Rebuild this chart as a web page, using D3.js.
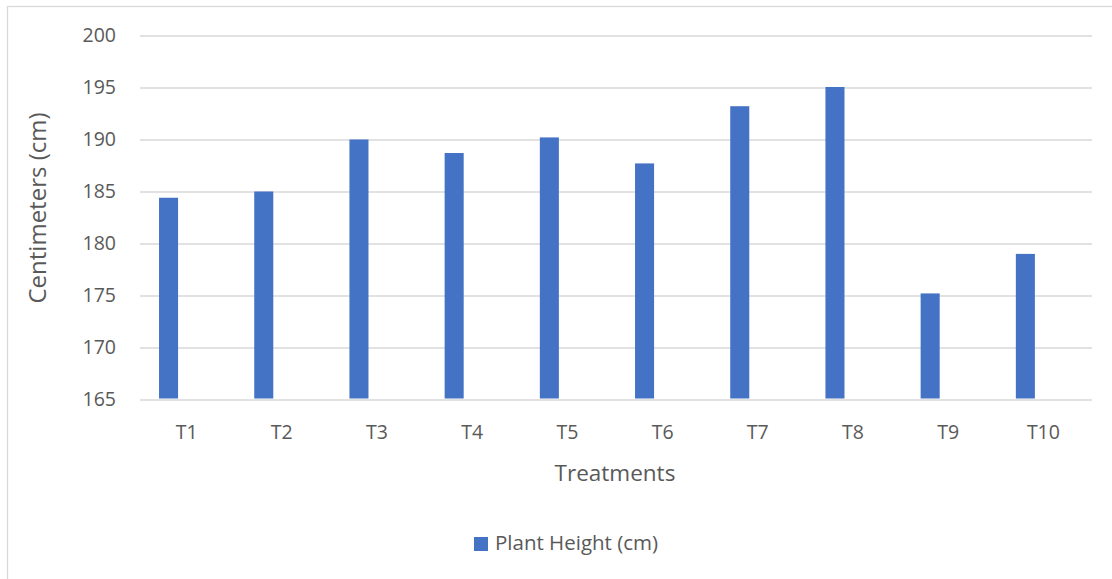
<!DOCTYPE html>
<html>
<head>
<meta charset="utf-8">
<script src="https://cdn.jsdelivr.net/npm/d3@7"></script>
<style>
  body { margin: 0; background: #fff; }
  text { font-family: "Open Sans", sans-serif; fill: #595959; }
</style>
</head>
<body>
<div class="canvas"></div>
<script>
// DATA
const treatments = ["T1", "T2", "T3", "T4", "T5", "T6", "T7", "T8", "T9", "T10"];
const plantHeight = [184.4, 185.0, 190.0, 188.7, 190.2, 187.7, 193.2, 195.05, 175.2, 179.0];
const yTicks = [165, 170, 175, 180, 185, 190, 195, 200];
const seriesName = "Plant Height (cm)";

const data = treatments.map((t, i) => ({ cat: t, value: plantHeight[i] }));

// Dimensions
const W = 1112, H = 579;
const margins = { top: 35.5, right: 20, bottom: 179.5, left: 140 };
const width = W - margins.left - margins.right;   // 952
const height = H - margins.top - margins.bottom;  // 364

const svg = d3.select(".canvas")
  .append("svg")
  .attr("width", W)
  .attr("height", H);

// chart border (runs off the right and bottom of the picture)
svg.append("rect")
  .attr("x", 7.5).attr("y", 6.5)
  .attr("width", W + 20).attr("height", H + 20)
  .attr("fill", "none")
  .attr("stroke", "#d9d9d9")
  .attr("stroke-width", 1.3);

const canvas = svg.append("g")
  .attr("transform", `translate(${margins.left},${margins.top})`);

// SCALES
const xScale = d3.scaleBand()
  .domain(treatments)
  .range([0, width])
  .padding(0);

// three slots per category, only the first carries data (Excel-style gap)
const xInner = d3.scaleBand()
  .domain([seriesName, "s2", "s3"])
  .range([0, xScale.bandwidth()])
  .paddingInner(0)
  .paddingOuter(1);

const yScale = d3.scaleLinear()
  .domain([165, 200])
  .range([height, 0]);

// GRIDLINES
const yAxis = canvas.append("g")
  .call(d3.axisLeft(yScale).tickValues(yTicks).tickSize(-width).tickPadding(24));
yAxis.select(".domain").remove();
yAxis.selectAll(".tick line")
  .attr("stroke", "#d9d9d9")
  .attr("stroke-width", 1.5);
yAxis.selectAll(".tick text")
  .style("font-family", "'Open Sans', sans-serif")
  .style("font-size", "19.5px")
  .attr("fill", "#595959");

// BARS
canvas.selectAll("rect.bar")
  .data(data)
  .enter()
  .append("rect")
  .attr("class", "bar")
  .attr("x", d => xScale(d.cat) + xInner(seriesName))
  .attr("y", d => yScale(d.value))
  .attr("width", xInner.bandwidth())
  .attr("height", d => yScale(165) - yScale(d.value) - 1)
  .attr("fill", "#4472c4");

// X AXIS
const xAxis = canvas.append("g")
  .attr("transform", `translate(0,${height})`)
  .call(d3.axisBottom(xScale).tickSize(0).tickPadding(26));
xAxis.select(".domain").remove();
xAxis.selectAll(".tick text")
  .style("font-family", "'Open Sans', sans-serif")
  .style("font-size", "19.5px")
  .attr("fill", "#595959")
  .attr("dx", -1);

// AXIS TITLES
svg.append("text")
  .attr("x", 615)
  .attr("y", 481)
  .attr("text-anchor", "middle")
  .style("font-size", "22.5px")
  .text("Treatments");

svg.append("text")
  .attr("transform", "translate(46,208) rotate(-90)")
  .attr("text-anchor", "middle")
  .style("font-size", "24px")
  .text("Centimeters (cm)");

// LEGEND
const legend = svg.append("g").attr("transform", "translate(474,537)");
legend.append("rect")
  .attr("width", 14).attr("height", 14)
  .attr("fill", "#4472c4");
legend.append("text")
  .attr("x", 21)
  .attr("y", 13)
  .style("font-size", "20.5px")
  .text(seriesName);
</script>
</body>
</html>
